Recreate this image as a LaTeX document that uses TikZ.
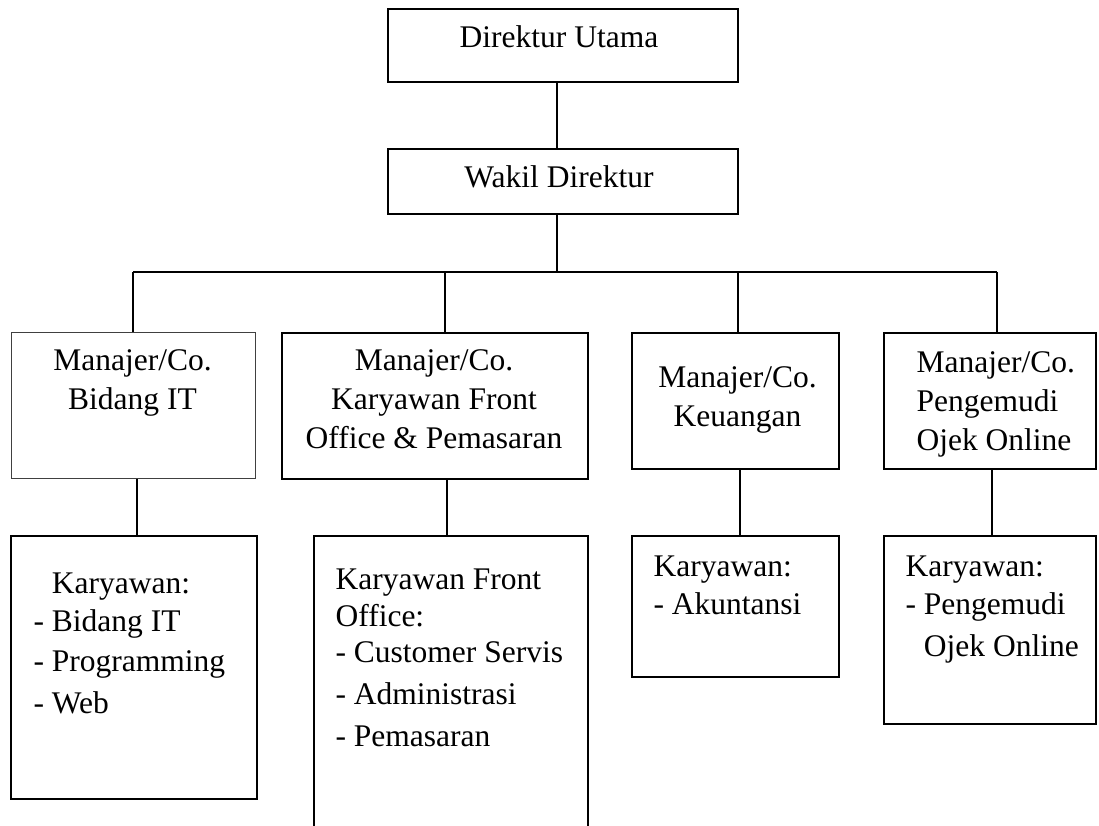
\documentclass[tikz,border=0pt]{standalone}
\usepackage{fontspec}
\setmainfont{Liberation Serif}
\usetikzlibrary{positioning}

\begin{document}
\begin{tikzpicture}[x=1pt,y=-1pt,line width=1.2pt,
  kotak/.style={draw,line width=1.6pt,anchor=north west,inner sep=0pt},
  tipis/.style={kotak,line width=1pt,draw=black!75},
  judul/.style={inner sep=0pt,font=\fontsize{31.5}{39}\selectfont,execute at begin node=\strut},
  daftar/.style={inner sep=0pt,anchor=north west,align=left,font=\fontsize{31.5}{38}\selectfont,execute at begin node=\strut}]
  \fill[white] (0,0) rectangle (1099,825);
  \useasboundingbox (0,0) rectangle (1099,825);
  % pimpinan
  \node[kotak,minimum width=350,minimum height=73] (du) at (387,8) {};
  \node[judul,anchor=base] (tdu) at (559,47) {Direktur Utama};
  \node[kotak,minimum width=350,minimum height=65] (wd) at (387,148) {};
  \node[judul,anchor=base] (twd) at (559,187) {Wakil Direktur};
  % manajer
  \node[tipis,minimum width=244,minimum height=146] (m1) at (11,332) {};
  \node[kotak,minimum width=306,minimum height=146] (m2) at (281,332) {};
  \node[kotak,minimum width=207,minimum height=136] (m3) at (631,332) {};
  \node[kotak,minimum width=212,minimum height=136] (m4) at (883,332) {};
  \node[judul,anchor=north,align=center] (tm1) at (132.5,348.7) {Manajer/Co.\\Bidang IT};
  \node[judul,anchor=north,align=center] (tm2) at (434,348.7) {Manajer/Co.\\Karyawan Front\\Office \& Pemasaran};
  \node[judul,anchor=north,align=center] (tm3) at (737.5,365.7) {Manajer/Co.\\Keuangan};
  \node[judul,anchor=north west,align=left] (tm4) at (916,350.7) {Manajer/Co.\\Pengemudi\\Ojek Online};
  % karyawan
  \node[kotak,minimum width=246,minimum height=263] (k1) at (10,535) {};
  \node[kotak,minimum width=274,minimum height=320] (k2) at (313,535) {};
  \node[kotak,minimum width=207,minimum height=141] (k3) at (631,535) {};
  \node[kotak,minimum width=212,minimum height=188] (k4) at (883,535) {};
  \node[daftar] (tk1) at (33,572.4) {\hphantom{- }Karyawan:\\- Bidang IT\\[2pt]- Programming\\[4pt]- Web};
  \node[daftar] (tk2) at (335,568.4) {Karyawan Front\\[-1pt]Office:\\[-2pt]- Customer Servis\\[4pt]- Administrasi\\[4pt]- Pemasaran};
  \node[daftar] (tk3) at (653,555.4) {Karyawan:\\- Akuntansi};
  \node[daftar] (tk4) at (905,555.4) {Karyawan:\\- Pengemudi\\[4pt]\hphantom{- }Ojek Online};
  % garis
  \coordinate (pusat) at (557,272);
  \draw (pusat |- du.south) -- (pusat |- wd.north);
  \draw (pusat |- wd.south) -- (pusat);
  \foreach \i/\x in {1/133,2/445,3/738,4/997} {
    \coordinate (d\i) at (\x,272);
    \draw (d\i) -- (d\i |- m\i.north);
  }
  \draw (d1) -- (d4);
  \foreach \i/\x in {1/137,2/447,3/740,4/992} {
    \coordinate (e\i) at (\x,0);
    \draw (e\i |- m\i.south) -- (e\i |- k\i.north);
  }
\end{tikzpicture}
\end{document}
